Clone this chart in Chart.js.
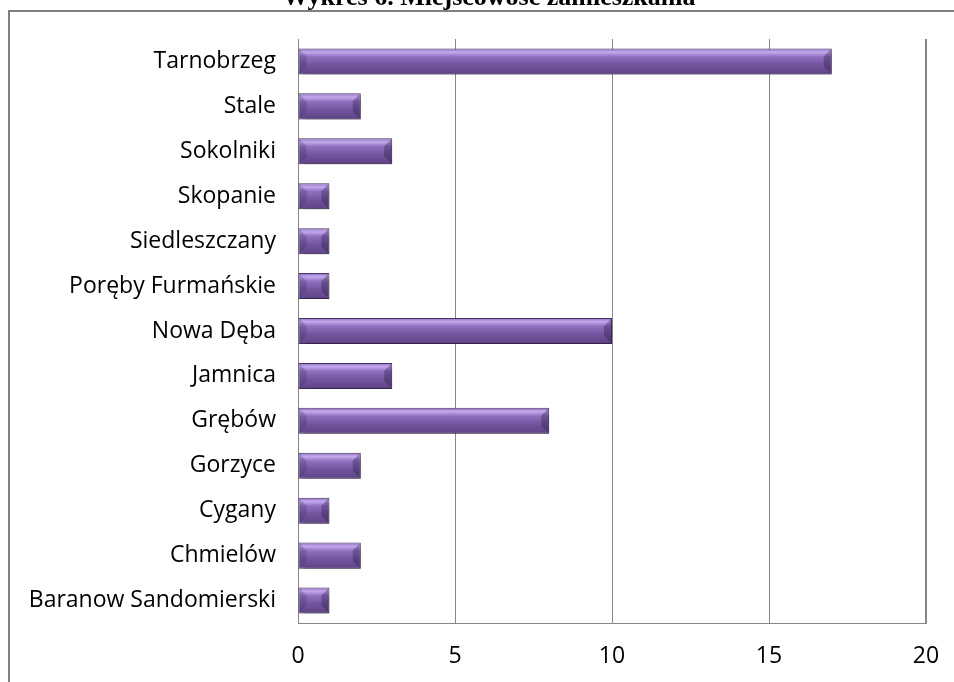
<!DOCTYPE html>
<html>
<head>
<meta charset="utf-8">
<script src="https://cdn.jsdelivr.net/npm/chart.js@4/dist/chart.umd.min.js"></script>
<style>
  html, body { margin: 0; padding: 0; background: #fff; overflow: hidden; }
  #wrap { position: relative; width: 954px; height: 682px; overflow: hidden; }
  #chart { position: absolute; left: 0; top: -20px; }
  #title {
    position: absolute; left: 0; top: -16px; width: 978px;
    text-align: center; white-space: nowrap;
    font: bold 26px/26px "Liberation Serif", "Times New Roman", serif;
    color: #000;
  }
</style>
</head>
<body>
<div id="wrap">
  <canvas id="chart" width="954" height="702"></canvas>
  <div id="title"></div>
</div>
<script>
const titleText = 'Wykres 6. Miejscowość zamieszkania';
const places = [
    'Tarnobrzeg', 'Stale', 'Sokolniki', 'Skopanie', 'Siedleszczany',
    'Poręby Furmańskie', 'Nowa Dęba', 'Jamnica', 'Grębów', 'Gorzyce',
    'Cygany', 'Chmielów', 'Baranow Sandomierski'
];
const counts = [17, 2, 3, 1, 1, 1, 10, 3, 8, 2, 1, 2, 1];
const xTicks = [0, 5, 10, 15, 20];

document.getElementById('title').textContent = titleText;

const labelFont = { family: '"Open Sans", "Noto Sans", sans-serif', size: 23 };
const gridColor = '#868686';

// gradient for the glossy purple bars
function barGradient(context) {
    const chart = context.chart;
    const yScale = chart.scales.y;
    if (!yScale || context.dataIndex === undefined) return '#7556a0';
    const y = yScale.getPixelForValue(context.dataIndex);
    if (!isFinite(y)) return '#7556a0';
    const h = 26;
    const g = chart.ctx.createLinearGradient(0, y - h / 2, 0, y + h / 2);
    g.addColorStop(0, '#8a6bb6');
    g.addColorStop(0.14, '#c3a9ef');
    g.addColorStop(0.32, '#8f70bf');
    g.addColorStop(0.6, '#7556a0');
    g.addColorStop(1, '#5c4384');
    return g;
}

// outer chart frame (cut off at right/bottom like the source)
const framePlugin = {
    id: 'frame',
    beforeDraw(chart) {
        const ctx = chart.ctx;
        ctx.save();
        ctx.strokeStyle = '#808080';
        ctx.lineWidth = 2;
        ctx.strokeRect(9, 31, chart.width + 20, chart.height + 20);
        ctx.restore();
    }
};

// soft drop shadow under the bars, then bevelled end facets on top
const shadowPlugin = {
    id: 'barShadow',
    beforeDatasetsDraw(chart) {
        const ctx = chart.ctx;
        ctx.save();
        ctx.shadowColor = 'rgba(0,0,0,0.35)';
        ctx.shadowOffsetX = 3;
        ctx.shadowOffsetY = 4;
        ctx.shadowBlur = 5;
    },
    afterDatasetsDraw(chart) {
        const ctx = chart.ctx;
        ctx.restore();
        ctx.save();
        chart.getDatasetMeta(0).data.forEach(bar => {
            const { x, y, base, height } = bar.getProps(['x', 'y', 'base', 'height']);
            const top = y - height / 2 + 1, bot = y + height / 2 - 1;
            const d = Math.min(7, (x - base) / 3);
            // left facet
            ctx.fillStyle = 'rgba(60,40,90,0.25)';
            ctx.beginPath();
            ctx.moveTo(base + 1, top);
            ctx.lineTo(base + 1 + d, top + d);
            ctx.lineTo(base + 1 + d, bot - d);
            ctx.lineTo(base + 1, bot);
            ctx.closePath();
            ctx.fill();
            // right facet
            ctx.fillStyle = 'rgba(40,25,70,0.35)';
            ctx.beginPath();
            ctx.moveTo(x - 1, top);
            ctx.lineTo(x - 1 - d, top + d);
            ctx.lineTo(x - 1 - d, bot - d);
            ctx.lineTo(x - 1, bot);
            ctx.closePath();
            ctx.fill();
        });
        ctx.restore();
    }
};

new Chart(document.getElementById('chart').getContext('2d'), {
    type: 'bar',
    data: {
        labels: places,
        datasets: [{
            data: counts,
            backgroundColor: barGradient,
            borderColor: '#4a3468',
            borderWidth: 1,
            borderSkipped: false,
            barPercentage: 0.58,
            categoryPercentage: 1
        }]
    },
    options: {
        indexAxis: 'y',
        responsive: false,
        animation: false,
        layout: {
            padding: { left: 0, right: 28, top: 59, bottom: 0 }
        },
        plugins: {
            legend: { display: false },
            tooltip: { enabled: false },
            title: { display: false }
        },
        scales: {
            x: {
                min: 0,
                max: 20,
                afterBuildTicks(axis) {
                    axis.ticks = xTicks.map(v => ({ value: v }));
                },
                afterFit(axis) {
                    axis.height = 59;
                    axis.paddingLeft = 0;
                    axis.paddingRight = 0;
                },
                grid: {
                    color: gridColor,
                    lineWidth: ctx => (ctx.tick && ctx.tick.value === 20 ? 2 : 1),
                    drawTicks: false
                },
                border: { display: true, color: gridColor, width: 1 },
                ticks: {
                    color: '#000',
                    font: labelFont,
                    padding: 20,
                    maxRotation: 0
                }
            },
            y: {
                afterFit(axis) {
                    axis.width = 298;
                    axis.paddingTop = 0;
                    axis.paddingBottom = 0;
                },
                grid: { display: false, drawTicks: false },
                border: { display: true, color: gridColor, width: 1 },
                ticks: {
                    color: '#000',
                    font: labelFont,
                    padding: 22,
                    autoSkip: false
                }
            }
        }
    },
    plugins: [framePlugin, shadowPlugin]
});
</script>
</body>
</html>
